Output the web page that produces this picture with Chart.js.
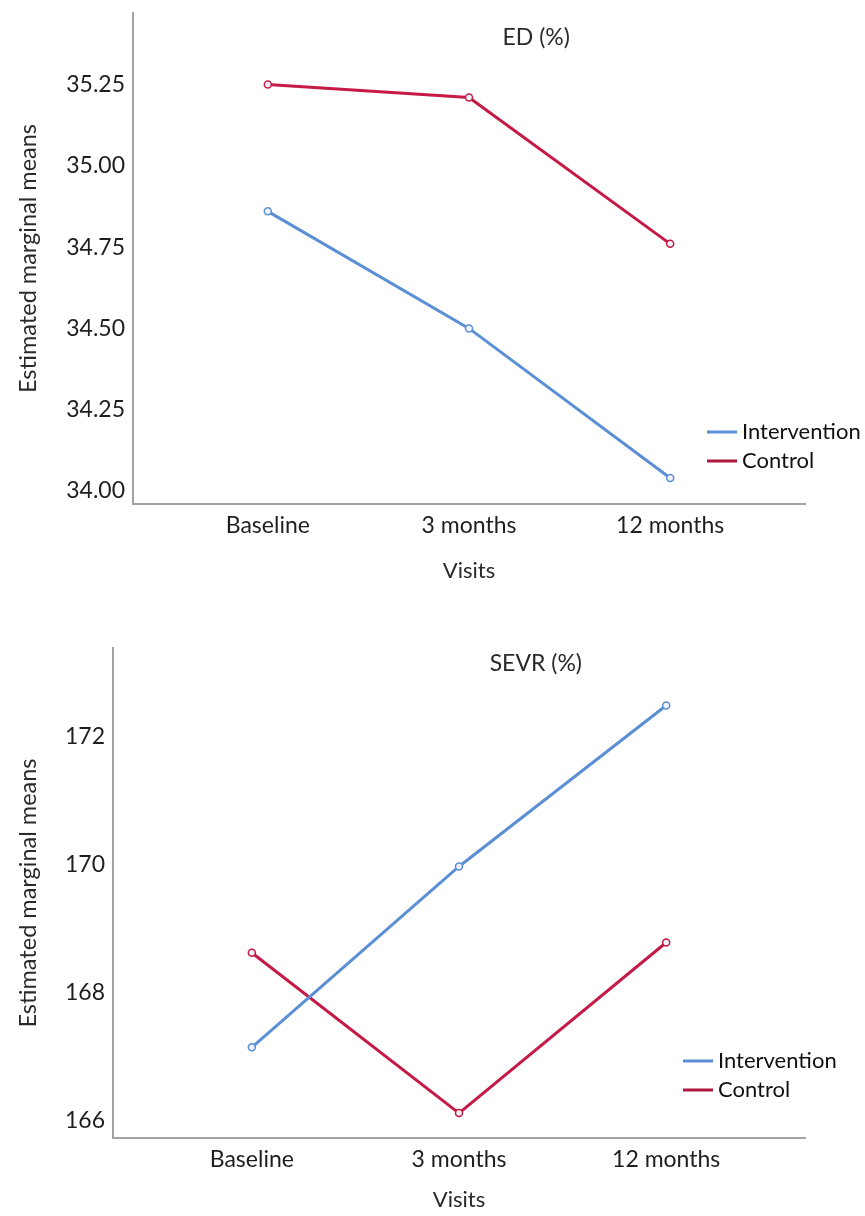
<!DOCTYPE html>
<html>
<head>
<meta charset="UTF-8">
<title>Estimated marginal means</title>
<script src="https://cdn.jsdelivr.net/npm/chart.js"></script>
<style>
body { margin: 0; background: #fff; }
.box { width: 865px; height: 608px; }
</style>
</head>
<body>
<div class="box"><canvas id="edChart" width="865" height="608"></canvas></div>
<div class="box"><canvas id="sevrChart" width="865" height="608"></canvas></div>

<script>
// data
const visits = ['Baseline', '3 months', '12 months'];
const groups = ['Intervention', 'Control'];

const edIntervention = [34.86, 34.50, 34.04];
const edControl = [35.25, 35.21, 34.76];
const edTicks = [34.00, 34.25, 34.50, 34.75, 35.00, 35.25];

const sevrIntervention = [167.14, 169.97, 172.49];
const sevrControl = [168.62, 166.11, 168.78];
const sevrTicks = [166, 168, 170, 172];

const blue = '#5b8fd5';
const red = '#c51a45';
const font = 'Lato';

// title inside the plot + legend at lower right
const overlay = {
	id: 'overlay',
	afterDraw(chart, args, o) {
		const ctx = chart.ctx;
		const a = chart.chartArea;
		ctx.save();
		ctx.font = '23px ' + font;
		ctx.fillStyle = '#2a2a2a';
		ctx.textAlign = 'center';
		ctx.textBaseline = 'middle';
		ctx.fillText(o.title, a.left + o.titleX * (a.right - a.left), a.top + o.titleDy);

		ctx.font = '22px ' + font;
		ctx.textAlign = 'left';
		ctx.fillStyle = '#111';
		const cols = [blue, '#b0173c'];
		groups.forEach(function(g, i) {
			const y = a.bottom - o.legendDy + i * 29;
			const x = a.right - o.legendDx;
			ctx.strokeStyle = cols[i];
			ctx.lineWidth = 3;
			ctx.beginPath();
			ctx.moveTo(x, y);
			ctx.lineTo(x + 30, y);
			ctx.stroke();
			ctx.fillText(g, x + 35, y);
		});
		ctx.restore();
	}
};

function series(vals) {
	return vals.map(function(v, i) { return {x: i, y: v}; });
}

function makeChart(id, cfg) {
	const ds = function(label, vals, col) {
		return {
			label: label,
			data: series(vals),
			borderColor: col,
			borderWidth: 3,
			pointRadius: 3.5,
			pointBorderWidth: 1.5,
			pointBorderColor: col,
			pointBackgroundColor: '#eef2fa',
			tension: 0
		};
	};
	return new Chart(document.getElementById(id), {
		type: 'line',
		data: {
			datasets: [
				ds(groups[0], cfg.intervention, blue),
				ds(groups[1], cfg.control, red)
			]
		},
		plugins: [overlay],
		options: {
			responsive: false,
			animation: false,
			layout: { padding: { left: 10, right: 60, top: cfg.top, bottom: 0 } },
			plugins: {
				legend: { display: false },
				tooltip: { enabled: false },
				overlay: cfg.overlay
			},
			scales: {
				x: {
					type: 'linear',
					min: -0.67,
					max: 2.67,
					grid: { display: false, drawTicks: false },
					border: { display: true, color: '#a3a3a3', width: 2 },
					afterBuildTicks: function(s) { s.ticks = visits.map(function(v, i) { return {value: i}; }); },
					afterFit: function(s) { s.height = cfg.xHeight; s.paddingLeft = 0; s.paddingRight = 0; },
					ticks: {
						padding: 8,
						color: '#1e1e1e',
						font: { family: font, size: 23 },
						callback: function(v) { return visits[v]; }
					},
					title: {
						display: true,
						text: 'Visits',
						color: '#2a2a2a',
						font: { family: font, size: 22 },
						padding: { top: 0, bottom: cfg.visitsPad }
					}
				},
				y: {
					min: cfg.min,
					max: cfg.max,
					grid: { display: false, drawTicks: false },
					border: { display: true, color: '#a3a3a3', width: 2 },
					afterBuildTicks: function(s) { s.ticks = cfg.ticks.map(function(v) { return {value: v}; }); },
					afterFit: function(s) { s.width = cfg.yWidth; s.paddingTop = 0; s.paddingBottom = 0; },
					ticks: {
						padding: 8,
						color: '#1e1e1e',
						font: { family: font, size: 23 },
						callback: function(v) { return cfg.decimals ? v.toFixed(cfg.decimals) : v; }
					},
					title: {
						display: true,
						text: 'Estimated marginal means',
						color: '#2a2a2a',
						font: { family: font, size: 23.5 },
						padding: { top: 4, bottom: 0 }
					}
				}
			}
		}
	});
}

makeChart('edChart', {
	intervention: edIntervention,
	control: edControl,
	ticks: edTicks,
	decimals: 2,
	min: 33.96,
	max: 35.47,
	top: 13,
	yWidth: 123,
	xHeight: 104,
	visitsPad: 24,
	overlay: { title: 'ED (%)', titleX: 0.6, titleDy: 25, legendDx: 98, legendDy: 72 }
});

makeChart('sevrChart', {
	intervention: sevrIntervention,
	control: sevrControl,
	ticks: sevrTicks,
	decimals: 0,
	min: 165.72,
	max: 173.39,
	top: 40,
	yWidth: 103,
	xHeight: 78,
	visitsPad: 3,
	overlay: { title: 'SEVR (%)', titleX: 0.611, titleDy: 16, legendDx: 122, legendDy: 77 }
});
</script>
</body>
</html>
